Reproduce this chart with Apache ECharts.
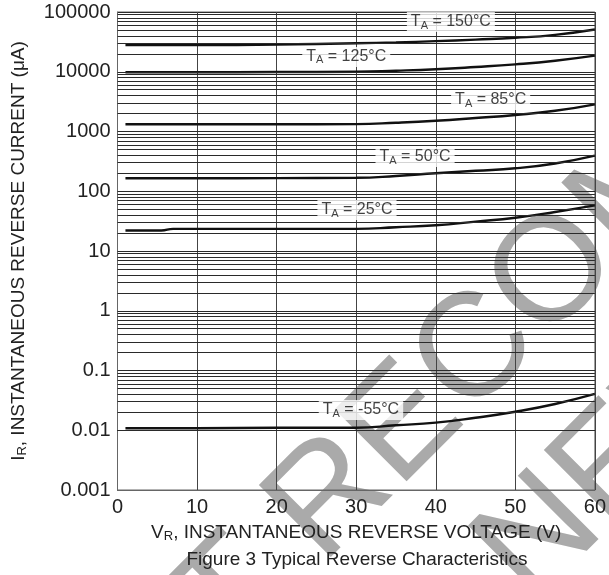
<!DOCTYPE html>
<html>
<head>
<meta charset="utf-8">
<script src="https://cdn.jsdelivr.net/npm/echarts@6/dist/echarts.min.js"></script>
<style>
  html, body { margin: 0; padding: 0; background: #fff; }
  #chart { width: 609px; height: 575px; }
</style>
</head>
<body>
<div id="chart"></div>
<script>
// Reverse leakage current vs reverse voltage, one curve per ambient temperature
const voltage = [1, 10, 20, 30, 35, 40, 45, 50, 55, 60];
const ir150 = [28000, 28000, 28500, 30000, 31000, 32500, 34500, 37000, 41500, 51000];
const ir125 = [9800, 9800, 9900, 10000, 10400, 11000, 12000, 13300, 15300, 18600];
const ir85  = [1320, 1320, 1320, 1330, 1400, 1510, 1680, 1890, 2220, 2850];
const ir50  = [165, 165, 166, 168, 180, 200, 220, 242, 292, 395];
const vr25  = [1, 5.5, 7, 20, 30, 35, 40, 45, 50, 55, 60];
const ir25  = [22, 22, 23.5, 23.5, 23.5, 25, 27, 31, 36, 45, 58];
const irM55 = [0.0108, 0.0108, 0.011, 0.011, 0.0121, 0.0134, 0.0162, 0.0204, 0.0275, 0.0405];

// Temperature tags and the data point each tag sits on
const tempLabels = ['150°C', '125°C', '85°C', '50°C', '25°C', '-55°C'];
const labelVr = [41.9, 28.75, 46.9, 37.4, 30.1, 30.6];
const labelIr = [68000, 17700, 3370, 374, 48.5, 0.0218];

// Axis tick labels
const yTickLabels = ['0.001', '0.01', '0.1', '1', '10', '100', '1000', '10000', '100000'];
const xTickLabels = ['0', '10', '20', '30', '40', '50', '60'];

const FONT = '"Liberation Sans", Arial, Helvetica, sans-serif';

// Log-grid minor lines (2..9 per decade)
const minorLines = [];
for (let e = -3; e < 5; e++) {
  for (let d = 2; d <= 9; d++) minorLines.push({ yAxis: d * Math.pow(10, e) });
}
for (let e = -2; e <= 4; e++) minorLines.push({ yAxis: Math.pow(10, e) });

function curve(xs, ys) {
  return {
    type: 'line',
    data: xs.map((v, i) => [v, ys[i]]),
    symbol: 'none',
    smooth: 0.5,
    lineStyle: { color: '#111', width: 2.4 },
    z: 4,
    silent: true
  };
}

const series = [
  {
    type: 'line',
    data: [],
    silent: true,
    markLine: {
      silent: true,
      symbol: ['none', 'none'],
      label: { show: false },
      lineStyle: { color: '#2a2a2a', width: 1, type: 'solid' },
      animation: false,
      data: minorLines
    },
    z: 1
  },
  curve(voltage, ir150),
  curve(voltage, ir125),
  curve(voltage, ir85),
  curve(voltage, ir50),
  curve(vr25, ir25),
  curve(voltage, irM55),
  {
    type: 'scatter',
    symbolSize: 0,
    silent: true,
    z: 6,
    data: tempLabels.map((t, i) => ({ value: [labelVr[i], labelIr[i]], name: t })),
    label: {
      show: true,
      position: 'inside',
      formatter: p => '{t|T}{s|A}{t| = ' + p.name + '}',
      backgroundColor: '#fff',
      padding: [1, 4, 1, 4],
      rich: {
        t: { fontSize: 16, fontFamily: FONT, color: '#111', lineHeight: 18 },
        s: { fontSize: 11, fontFamily: FONT, color: '#111', padding: [7, 0, 0, 0], lineHeight: 18 }
      }
    }
  }
];

const chart = echarts.init(document.getElementById('chart'), null, { renderer: 'canvas' });
chart.setOption({
  animation: false,
  backgroundColor: '#fff',
  grid: {
    left: 117, right: 12, top: 12, bottom: 85,
    show: true, borderColor: '#666', borderWidth: 1, backgroundColor: 'transparent'
  },
  xAxis: {
    type: 'value',
    min: 0, max: 60, interval: 10,
    axisLine: { show: true, lineStyle: { color: '#666', width: 1 } },
    axisTick: { show: false },
    axisLabel: {
      margin: 7, fontSize: 20, fontFamily: FONT, color: '#222',
      formatter: (v, i) => xTickLabels[i]
    },
    splitLine: { show: true, lineStyle: { color: '#444', width: 1 } },
    name: '{m|V}{s|R}{m|, INSTANTANEOUS REVERSE VOLTAGE (V)}',
    nameLocation: 'middle',
    nameGap: 30,
    nameTextStyle: {
      rich: {
        m: { fontSize: 19, fontFamily: FONT, color: '#222', lineHeight: 22 },
        s: { fontSize: 13, fontFamily: FONT, color: '#222', padding: [8, 0, 0, 0], lineHeight: 22 }
      }
    }
  },
  yAxis: {
    type: 'log',
    logBase: 10,
    min: 0.001, max: 100000,
    axisLine: { show: true, lineStyle: { color: '#666', width: 1 } },
    axisTick: { show: false },
    axisLabel: {
      margin: 7, fontSize: 20, fontFamily: FONT, color: '#222',
      formatter: (v, i) => yTickLabels[i]
    },
    splitLine: { show: true, lineStyle: { color: '#2a2a2a', width: 1 } },
    name: '{m|I}{s|R}{m|, INSTANTANEOUS REVERSE CURRENT (μA)}',
    nameLocation: 'middle',
    nameGap: 88,
    nameTextStyle: {
      rich: {
        m: { fontSize: 19, fontFamily: FONT, color: '#222', lineHeight: 22 },
        s: { fontSize: 13, fontFamily: FONT, color: '#222', padding: [8, 0, 0, 0], lineHeight: 22 }
      }
    }
  },
  graphic: {
    elements: [
      {
        type: 'text', z: -10, silent: true,
        x: 590, y: 240, rotation: Math.PI / 4,
        style: {
          text: 'NOT RECOMMENDED', font: '148px "Liberation Sans", Arial, sans-serif',
          fill: '#aaaaaa', textAlign: 'center', textVerticalAlign: 'middle'
        }
      },
      {
        type: 'text', z: -10, silent: true,
        x: 715, y: 365, rotation: Math.PI / 4,
        style: {
          text: 'FOR NEW DESIGN', font: '148px "Liberation Sans", Arial, sans-serif',
          fill: '#aaaaaa', textAlign: 'center', textVerticalAlign: 'middle'
        }
      },
      {
        type: 'text', z: 10, silent: true,
        x: 357, y: 560,
        style: {
          text: 'Figure 3 Typical Reverse Characteristics',
          font: '19px "Liberation Sans", Arial, sans-serif',
          fill: '#222', textAlign: 'center', textVerticalAlign: 'middle'
        }
      }
    ]
  },
  series: series
});
</script>
</body>
</html>
